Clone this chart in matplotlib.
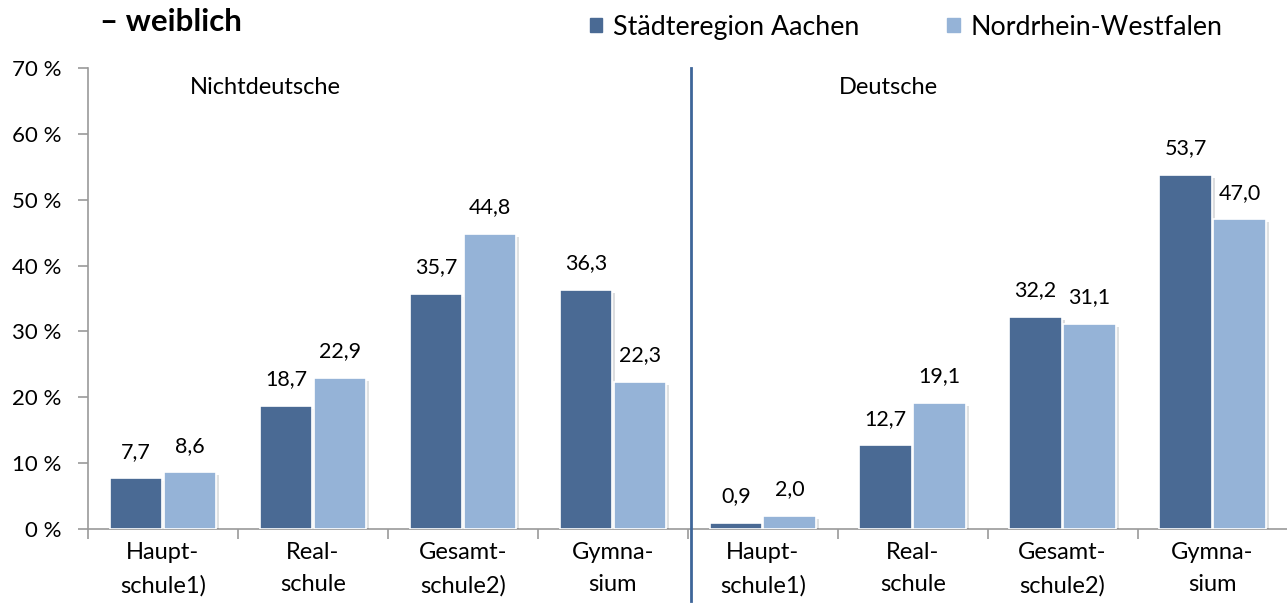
import numpy as np
import matplotlib
matplotlib.use("Agg")
from matplotlib import pyplot as plt
from matplotlib import patheffects as pe

# data
categories = ['Haupt-\nschule1)', 'Real-\nschule', 'Gesamt-\nschule2)', 'Gymna-\nsium',
              'Haupt-\nschule1)', 'Real-\nschule', 'Gesamt-\nschule2)', 'Gymna-\nsium']
aachen = [7.7, 18.7, 35.7, 36.3, 0.9, 12.7, 32.2, 53.7]
nrw = [8.6, 22.9, 44.8, 22.3, 2.0, 19.1, 31.1, 47.0]
series_names = ['Städteregion Aachen', 'Nordrhein-Westfalen']
group_names = ['Nichtdeutsche', 'Deutsche']
yticks = [0, 10, 20, 30, 40, 50, 60, 70]

plt.rcParams['font.family'] = ['Lato', 'DejaVu Sans']

dark = '#4A6A94'
light = '#95B3D7'
grey = '#9A9A9A'

fig = plt.figure(figsize=(12.87, 6.06), dpi=100)
ax = fig.add_axes([0.0684, 0.127, 0.932, 0.761])

x = np.arange(len(categories))
w = 0.35
shadow = [pe.SimplePatchShadow(offset=(2, -2), alpha=0.15), pe.Normal()]
b1 = ax.bar(x - 0.18, aachen, w, color=dark, edgecolor='white', linewidth=1.2, zorder=3)
b2 = ax.bar(x + 0.18, nrw, w, color=light, edgecolor='white', linewidth=1.2, zorder=3)
for b in list(b1) + list(b2):
    b.set_path_effects(shadow)

for xi, v in zip(x - 0.18, aachen):
    ax.annotate(f"{v:.1f}".replace('.', ','), (xi, v), xytext=(0, 12), textcoords='offset points',
                ha='center', va='bottom', fontsize=15.5)
for xi, v in zip(x + 0.18, nrw):
    ax.annotate(f"{v:.1f}".replace('.', ','), (xi, v), xytext=(0, 12), textcoords='offset points',
                ha='center', va='bottom', fontsize=15.5)

ax.set_xlim(-0.5, 7.5)
ax.set_ylim(0, 70)
ax.set_yticks(yticks)
ax.set_yticklabels([f"{t} %" for t in yticks], fontsize=16)
ax.set_xticks(x)
ax.set_xticklabels(categories, fontsize=17, linespacing=1.7)
ax.set_xticks(np.arange(-0.5, 8.0, 1.0), minor=True)
ax.tick_params(axis='x', which='major', length=0, pad=9)
ax.tick_params(axis='x', which='minor', length=7, color=grey, width=1.2)
ax.tick_params(axis='y', length=7, color=grey, width=1.2, pad=12)

for s in ['top', 'right']:
    ax.spines[s].set_visible(False)
for s in ['left', 'bottom']:
    ax.spines[s].set_color(grey)
    ax.spines[s].set_linewidth(1.2)

# divider between groups
ax.axvline(3.52, ymin=-0.155, ymax=1.0, color='#3E6699', linewidth=2, clip_on=False, zorder=4)

ax.text(0.68, 67, group_names[0], ha='center', va='center', fontsize=17)
ax.text(4.84, 67, group_names[1], ha='center', va='center', fontsize=17)

fig.text(0.078, 0.963, '– weiblich', fontsize=22.5, fontweight='bold', ha='left', va='center')

h1 = plt.Rectangle((0, 0), 1, 1, color=dark)
h2 = plt.Rectangle((0, 0), 1, 1, color=light)
fig.legend([h1, h2], series_names, loc='center', bbox_to_anchor=(0.704, 0.955), ncol=2,
           frameon=False, fontsize=19.3, handlelength=0.45, handleheight=0.45,
           handletextpad=0.4, columnspacing=3.3)

fig.savefig('out.png', dpi=100)
